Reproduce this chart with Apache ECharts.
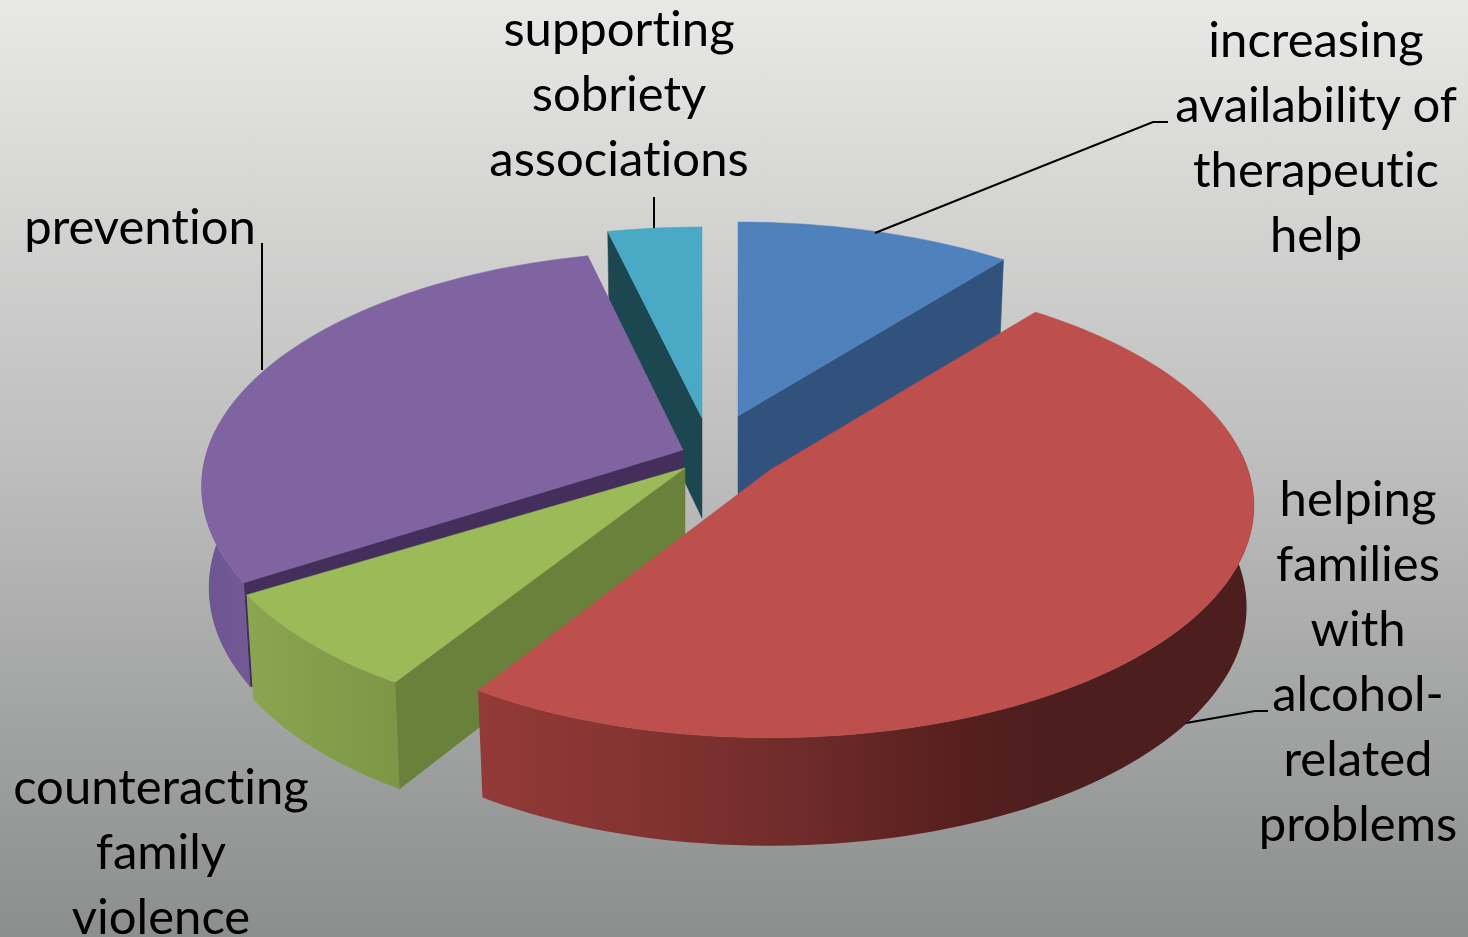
<!DOCTYPE html>
<html><head><meta charset="utf-8">
<style>html,body{margin:0;padding:0;background:#bbb;overflow:hidden}#c{width:1468px;height:937px}text{font-variant-ligatures:none !important;font-feature-settings:"liga" 0,"clig" 0 !important}</style>
<script src="https://cdn.jsdelivr.net/npm/echarts@6/dist/echarts.min.js"></script>
</head><body><div id="c"></div>
<script>
// --- data (clockwise from 12 o'clock) ---
var categories = ['increasing\navailability of\ntherapeutic\nhelp',
  'helping\nfamilies\nwith\nalcohol-\nrelated\nproblems',
  'counteracting\nfamily\nviolence',
  'prevention',
  'supporting\nsobriety\nassociations'];
var values = [10.7, 48.2, 7.2, 30.2, 3.7];

// --- look of each slice (same order) ---
var topColors = ['#4f81bd', '#bd4f4c', '#9bbb59', '#8064a2', '#4aaac5'];
var sideColors = ['#31527c', '#7a2c2a', '#6a813b', '#442f5c', '#1c4751'];
var rimColors = [
  [[0,'#31527c'],[1,'#31527c']],
  [[0,'#933a37'],[0.2,'#843432'],[0.42,'#6e2b29'],[0.62,'#571f1e'],[0.75,'#4c1e1e'],[1,'#4c1e1e']],
  [[0,'#8aa650'],[1,'#7c9646']],
  [[0,'#6c5590'],[1,'#725a96']],
  [[0,'#1c4751'],[1,'#1c4751']]
];
var drawRank = [1, 4, 3, 2, 0];
var apexes = [[738,416],[770,470],[685,468],[683,450],[702,418]]; // exploded slice tips
var rxScale = [1, 1, 0.993, 0.995, 0.985];
var ryScale = [1, 1.01, 0.98, 1.025, 0.985];
var labelAt = [[1316,135.5],[1358,659.5],[161,850],[140,225],[619,92]];
var leaders = [
  [[875,233],[1153,122],[1168,122]],
  [[1186,723],[1255,711],[1268,711]],
  [],
  [[262,370],[262,243]],
  [[654,228],[654,197]]
];
// --- projection of the tilted disc ---
var RX = 478, RY = 224, PERSP = 0.155, DEPTH = 100, DEPTH_FRONT = 0.08, SHRINK = 0.985;
var total = values.reduce(function(a,b){return a+b;},0);
var startDeg = [], acc = 0;
values.forEach(function(v,i){ startDeg[i] = acc; acc += v/total*360; });

function proj(i, deg, bottom, r){
  var apex = apexes[i];
  var a = deg*Math.PI/180, rr = r===undefined?1:r;
  var u = Math.sin(a)*rr, v = -Math.cos(a)*rr;
  var s = 1/(1-PERSP*v), rx = RX*rxScale[i], ry = RY*ryScale[i];
  if(!bottom) return [apex[0]+rx*u*s, apex[1]+ry*v*s];
  return [apex[0]+rx*u*s*SHRINK, apex[1]+ry*v*s+DEPTH*(1+DEPTH_FRONT*v)];
}
function arc(i,d0,d1,bottom){
  var pts=[], n=Math.max(2,Math.ceil(Math.abs(d1-d0)/1.5));
  for(var k=0;k<=n;k++) pts.push(proj(i,d0+(d1-d0)*k/n,bottom));
  return pts;
}
function renderSlice(params, api){
  var i = params.dataIndex, val = api.value(0);
  var apex = apexes[i], t0 = startDeg[i], t1 = t0 + val/total*360;
  var base = drawRank[i]*10, kids = [];
  var mid = proj(i,(t0+t1)/2);
  // radial walls, only the ones turned towards the viewer
  [t0,t1].forEach(function(t){
    var rim = proj(i,t);
    var ex = rim[0]-apex[0], ey = rim[1]-apex[1];
    var cm = ex*(mid[1]-apex[1]) - ey*(mid[0]-apex[0]);
    if(cm*ex < 0){
      kids.push({type:'polygon',z2:base+1,silent:true,
        shape:{points:[apex,rim,proj(i,t,true),proj(i,t,true,0)]},
        style:{fill:sideColors[i],stroke:sideColors[i],lineWidth:0.5}});
    }
  });
  // outer wall, front half only
  var a0 = Math.max(t0,85), a1 = Math.min(t1,275);
  if(a1>a0){
    var pts = arc(i,a0,a1,false).concat(arc(i,a1,a0,true));
    kids.push({type:'polygon',z2:base+2,silent:true,shape:{points:pts},
      style:{fill:{type:'linear',x:0,y:0,x2:1,y2:0,
        colorStops:rimColors[i].map(function(c){return {offset:c[0],color:c[1]};})}}});
  }
  // top face
  kids.push({type:'polygon',z2:base+3,silent:true,
    shape:{points:[apex].concat(arc(i,t0,t1,false))},
    style:{fill:topColors[i],stroke:topColors[i],lineWidth:0.5}});
  // leader and label
  if(leaders[i].length){
    kids.push({type:'polyline',z2:100,silent:true,shape:{points:leaders[i]},
      style:{fill:null,stroke:'#000',lineWidth:2}});
  }
  kids.push({type:'text',z2:101,silent:true,
    style:{text:api.value(1),x:labelAt[i][0],y:labelAt[i][1],align:'center',verticalAlign:'middle',
      fill:'#000',font:'49px Lato',lineHeight:65}});
  return {type:'group',children:kids};
}
var chart = echarts.init(document.getElementById('c'),null,{renderer:'svg',width:1468,height:937});
chart.setOption({
  animation:false,
  backgroundColor:{type:'linear',x:0,y:0,x2:0,y2:1,colorStops:[
    {offset:0,color:'#e8e8e6'},{offset:0.5,color:'#bcbdbc'},{offset:1,color:'#8b8e8d'}]},
  series:[{type:'custom',coordinateSystem:'none',silent:true,clip:false,
    renderItem:renderSlice,
    data:values.map(function(v,i){return {value:[v,categories[i]],name:categories[i]};})}]
});
</script></body></html>
